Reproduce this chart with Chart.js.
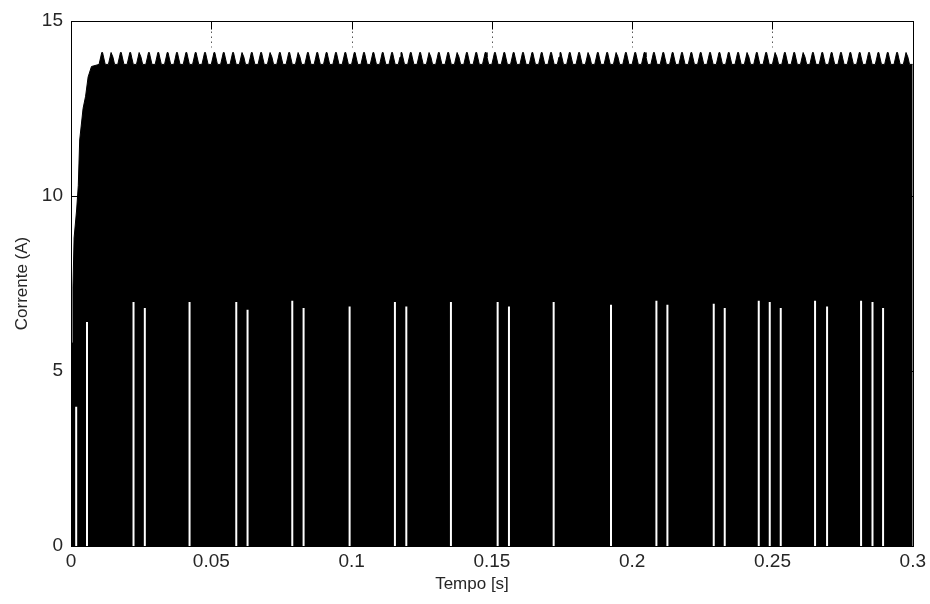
<!DOCTYPE html>
<html>
<head>
<meta charset="utf-8">
<script src="https://cdn.jsdelivr.net/npm/chart.js@4.4.1/dist/chart.umd.min.js"></script>
<style>
html, body { margin: 0; padding: 0; background: #fff; }
#wrap { width: 930px; height: 604px; }
</style>
</head>
<body>
<div id="wrap"><canvas id="chart" width="930" height="604"></canvas></div>
<script>
// start-up of the current envelope (s, A)
const riseTime    = [0, 0.0002, 0.0006, 0.0007, 0.0011, 0.0020, 0.0026, 0.0031, 0.0043, 0.0052, 0.0061, 0.0073, 0.0100];
const riseCurrent = [0, 5.8,    5.8,    7.4,    8.8,    9.6,    10.3,   11.6,   12.5,   12.85,  13.4,   13.7,   13.76];

// steady state ripple: one peak every ripplePeriod, valleys at rippleBase
const rippleStart = 0.0111;
const ripplePeriod = 0.003333;
const rippleBase = 13.76;
const rippleShoulder = 13.97;
const peakCurrent = [
  14.1, 14.1, 14.1, 14.1, 14.1, 14.1, 14.1, 14.1, 14.1, 14.1,
  14.1, 14.1, 14.1, 14.1, 14.1, 14.1, 14.1, 14.1, 14.1, 14.1,
  14.1, 14.1, 14.1, 14.1, 14.1, 14.1, 14.1, 14.1, 14.1, 14.1,
  14.1, 14.1, 14.1, 14.1, 14.1, 14.1, 14.1, 14.1, 14.1, 14.1,
  14.1, 14.1, 14.1, 14.1, 14.1, 14.1, 14.1, 14.1, 14.1, 14.1,
  14.1, 14.1, 14.1, 14.1, 14.1, 14.1, 14.1, 14.1, 14.1, 14.1,
  14.1, 14.1, 14.1, 14.1, 14.1, 14.1, 14.1, 14.1, 14.1, 14.1,
  14.1, 14.1, 14.1, 14.1, 14.1, 14.1, 14.1, 14.1, 14.1, 14.1,
  14.1, 14.1, 14.1, 14.1, 14.1, 14.1, 14.1
];

// white gaps in the switching pattern (s) and how high they reach (A)
const gapTime = [0.00185, 0.0057, 0.02228, 0.02631, 0.04225, 0.0589, 0.06292, 0.07886, 0.08289, 0.09929,
  0.11544, 0.1195, 0.1354, 0.15205, 0.15608, 0.17201, 0.19244, 0.20863, 0.21255, 0.22906,
  0.23298, 0.2451, 0.24902, 0.25294, 0.26517, 0.26945, 0.28157, 0.28564, 0.28941];
const gapTop = [3.98, 6.40, 6.97, 6.80, 6.97, 6.97, 6.75, 7.01, 6.80, 6.84,
  6.97, 6.84, 6.97, 6.97, 6.84, 6.97, 6.89, 7.01, 6.89, 6.92,
  6.80, 7.01, 6.97, 6.80, 7.01, 6.84, 7.01, 6.97, 6.80];

const xTicks = [0, 0.05, 0.1, 0.15, 0.2, 0.25, 0.3];
const xTickLabels = ['0', '0.05', '0.1', '0.15', '0.2', '0.25', '0.3'];
const yTicks = [0, 5, 10, 15];
const yTickLabels = ['0', '5', '10', '15'];

const FONT = "'Liberation Sans', Arial, Helvetica, sans-serif";
const TEXT = '#262626';

const envelope = riseTime.map((t, i) => ({x: t, y: riseCurrent[i]}));
peakCurrent.forEach((p, k) => {
    const tp = rippleStart + k * ripplePeriod;
    envelope.push({x: tp - 0.0011, y: rippleBase});
    envelope.push({x: tp - 0.0005, y: rippleShoulder});
    envelope.push({x: tp - 0.00015, y: p});
    envelope.push({x: tp + 0.00015, y: p});
    envelope.push({x: tp + 0.0005, y: rippleShoulder});
    envelope.push({x: tp + 0.0011, y: rippleBase});
});
envelope.push({x: 0.3, y: rippleBase});

const gaps = [];
gapTime.forEach((t, i) => {
    gaps.push({x: t, y: 0}, {x: t, y: gapTop[i]}, {x: t, y: null});
});

// MATLAB style box with inward ticks, plus the x label
const boxPlugin = {
    id: 'box',
    beforeDraw(chart) {
        const c = chart.ctx;
        c.save();
        c.fillStyle = '#fff';
        c.fillRect(0, 0, chart.width, chart.height);
        c.restore();
    },
    afterDraw(chart) {
        const c = chart.ctx;
        const a = chart.chartArea;
        const xs = chart.scales.x, ys = chart.scales.y;
        const L = Math.round(a.left) + 0.5, R = Math.round(a.right) + 0.5;
        const T = Math.round(a.top) + 0.5, B = Math.round(a.bottom) + 0.5;
        c.save();
        c.strokeStyle = '#000';
        c.lineWidth = 1;
        xTicks.forEach(v => {
            const px = Math.round(xs.getPixelForValue(v)) + 0.5;
            c.beginPath();
            c.moveTo(px, T); c.lineTo(px, T + 8);
            c.moveTo(px, B); c.lineTo(px, B - 8);
            c.stroke();
        });
        yTicks.forEach(v => {
            const py = Math.round(ys.getPixelForValue(v)) + 0.5;
            c.beginPath();
            c.moveTo(L, py); c.lineTo(L + 8, py);
            c.moveTo(R, py); c.lineTo(R - 8, py);
            c.stroke();
        });
        c.strokeStyle = '#555';
        c.setLineDash([1.5, 3.5]);
        xTicks.slice(1, -1).forEach(v => {
            const px = Math.round(xs.getPixelForValue(v)) + 0.5;
            c.beginPath();
            c.moveTo(px, T + 10); c.lineTo(px, T + 26);
            c.stroke();
        });
        c.setLineDash([]);
        c.strokeStyle = '#000';
        c.strokeRect(L, T, R - L, B - T);

        c.fillStyle = TEXT;
        c.font = '17px ' + FONT;
        c.textAlign = 'center';
        c.textBaseline = 'middle';
        c.fillText('Tempo [s]', 472, 584);
        c.restore();
    }
};

new Chart(document.getElementById('chart'), {
    type: 'line',
    data: {
        datasets: [
            {
                label: 'gaps',
                data: gaps,
                borderColor: '#fff',
                borderWidth: 2,
                pointRadius: 0,
                fill: false,
                spanGaps: false
            },
            {
                label: 'Corrente',
                data: envelope,
                borderColor: '#000',
                backgroundColor: '#000',
                borderWidth: 1,
                pointRadius: 0,
                tension: 0,
                fill: 'origin'
            }
        ]
    },
    options: {
        responsive: false,
        animation: false,
        devicePixelRatio: 1,
        layout: {padding: {top: 21, right: 17, left: 0, bottom: 0}},
        plugins: {legend: {display: false}, tooltip: {enabled: false}},
        scales: {
            x: {
                type: 'linear',
                min: 0,
                max: 0.3,
                grid: {display: false, drawTicks: false},
                border: {display: false},
                afterBuildTicks: s => { s.ticks = xTicks.map(v => ({value: v})); },
                afterFit: s => { s.height = 58; },
                ticks: {
                    callback: v => xTickLabels[xTicks.indexOf(v)],
                    font: {family: FONT, size: 19},
                    color: TEXT,
                    padding: 4,
                    maxRotation: 0,
                    autoSkip: false
                },
                title: {display: false}
            },
            y: {
                type: 'linear',
                min: 0,
                max: 15,
                grid: {display: false, drawTicks: false},
                border: {display: false},
                afterBuildTicks: s => { s.ticks = yTicks.map(v => ({value: v})); },
                afterFit: s => { s.width = 71; },
                ticks: {
                    callback: v => yTickLabels[yTicks.indexOf(v)],
                    font: {family: FONT, size: 19},
                    color: TEXT,
                    padding: 8
                },
                title: {
                    display: true,
                    text: 'Corrente (A)',
                    font: {family: FONT, size: 17},
                    color: TEXT,
                    padding: {top: 12, bottom: 0}
                }
            }
        }
    },
    plugins: [boxPlugin]
});
</script>
</body>
</html>
